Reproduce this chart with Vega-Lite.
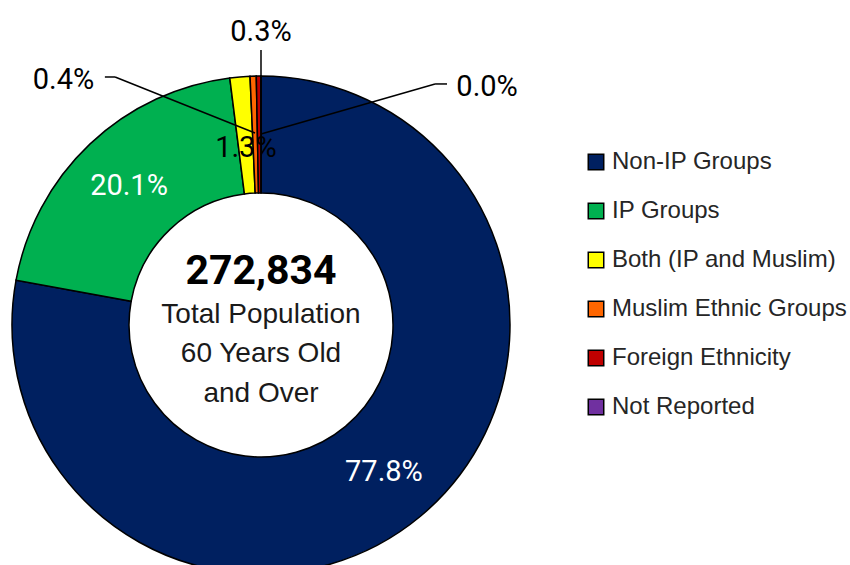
{
  "$schema": "https://vega.github.io/schema/vega-lite/v6.json",
  "width": 850,
  "height": 565,
  "autosize": {"type": "fit", "contains": "padding"},
  "padding": 0,
  "background": "white",
  "config": {"view": {"stroke": null}},
  "datasets": {
    "groups": [
      {"group": "Non-IP Groups", "share": 0.778, "rank": 1},
      {"group": "IP Groups", "share": 0.201, "rank": 2},
      {"group": "Both (IP and Muslim)", "share": 0.013, "rank": 3},
      {"group": "Muslim Ethnic Groups", "share": 0.004, "rank": 4},
      {"group": "Foreign Ethnicity", "share": 0.003, "rank": 5},
      {"group": "Not Reported", "share": 0.0, "rank": 6}
    ],
    "total": [{"population": 272834}]
  },
  "data": {"name": "groups"},
  "layer": [
    {
      "mark": {"type": "arc", "outerRadius": 249, "innerRadius": 132, "stroke": "black", "strokeWidth": 1.5, "clip": true},
      "encoding": {
        "x": {"datum": 0, "type": "quantitative", "scale": {"domain": [-1.0482, 2.3655], "nice": false, "zero": false}, "axis": null},
        "y": {"datum": 0, "type": "quantitative", "scale": {"domain": [-0.9639, 1.3052], "nice": false, "zero": false}, "axis": null},
        "theta": {"field": "share", "type": "quantitative", "stack": true},
        "order": {"field": "rank", "type": "quantitative"},
        "color": {
          "field": "group",
          "type": "nominal",
          "scale": {
            "domain": ["Non-IP Groups", "IP Groups", "Both (IP and Muslim)", "Muslim Ethnic Groups", "Foreign Ethnicity", "Not Reported"],
            "range": ["#002060", "#00B050", "#FFFF00", "#FF6600", "#C00000", "#7030A0"]
          },
          "legend": {
            "orient": "none",
            "legendX": 584,
            "legendY": 150,
            "title": null,
            "padding": 0,
            "symbolType": "square",
            "symbolSize": 240,
            "symbolStrokeColor": "black",
            "symbolStrokeWidth": 1.5,
            "labelFont": "Liberation Sans",
            "labelFontSize": 24,
            "labelColor": "#262626",
            "labelLimit": 300,
            "labelOffset": 4,
            "rowPadding": 25
          }
        }
      }
    },
    {
      "mark": {"type": "rule", "stroke": "black", "strokeWidth": 1.5},
      "data": {"values": [{}]},
      "encoding": {
        "x": {"datum": -0.627, "type": "quantitative"},
        "y": {"datum": 0.996, "type": "quantitative"},
        "x2": {"datum": -0.586},
        "y2": {"datum": 0.996}
      }
    },
    {
      "mark": {"type": "rule", "stroke": "black", "strokeWidth": 1.5},
      "data": {"values": [{}]},
      "encoding": {
        "x": {"datum": -0.586, "type": "quantitative"},
        "y": {"datum": 0.996, "type": "quantitative"},
        "x2": {"datum": -0.024},
        "y2": {"datum": 0.771}
      }
    },
    {
      "mark": {"type": "rule", "stroke": "black", "strokeWidth": 1.5},
      "data": {"values": [{}]},
      "encoding": {
        "x": {"datum": 0.747, "type": "quantitative"},
        "y": {"datum": 0.968, "type": "quantitative"},
        "x2": {"datum": 0.699},
        "y2": {"datum": 0.968}
      }
    },
    {
      "mark": {"type": "rule", "stroke": "black", "strokeWidth": 1.5},
      "data": {"values": [{}]},
      "encoding": {
        "x": {"datum": 0.699, "type": "quantitative"},
        "y": {"datum": 0.968, "type": "quantitative"},
        "x2": {"datum": 0.0},
        "y2": {"datum": 0.767}
      }
    },
    {
      "mark": {"type": "rule", "stroke": "black", "strokeWidth": 1.5},
      "data": {"values": [{}]},
      "encoding": {
        "x": {"datum": 0.0, "type": "quantitative"},
        "y": {"datum": 1.104, "type": "quantitative"},
        "x2": {"datum": 0.0},
        "y2": {"datum": 0.78}
      }
    },
    {
      "mark": {"type": "text", "radius": 192, "font": "Roboto", "fontSize": 29, "fill": "white", "baseline": "middle", "align": "center"},
      "encoding": {
        "x": {"datum": 0, "type": "quantitative"},
        "y": {"datum": 0, "type": "quantitative"},
        "theta": {"field": "share", "type": "quantitative", "stack": true},
        "order": {"field": "rank", "type": "quantitative"},
        "text": {"condition": {"test": "datum.rank > 2", "value": ""}, "field": "share", "type": "quantitative", "format": ".1%"}
      }
    },
    {
      "mark": {"type": "text", "radius": 178, "font": "Roboto", "fontSize": 29, "fill": "black", "baseline": "middle", "align": "center"},
      "encoding": {
        "x": {"datum": 0, "type": "quantitative"},
        "y": {"datum": 0, "type": "quantitative"},
        "theta": {"field": "share", "type": "quantitative", "stack": true},
        "order": {"field": "rank", "type": "quantitative"},
        "text": {"condition": {"test": "datum.rank != 3", "value": ""}, "field": "share", "type": "quantitative", "format": ".1%"}
      }
    },
    {
      "transform": [{"filter": "datum.rank == 4"}],
      "mark": {"type": "text", "font": "Roboto", "fontSize": 29, "fill": "black", "baseline": "middle", "align": "center"},
      "encoding": {
        "x": {"datum": -0.793, "type": "quantitative"},
        "y": {"datum": 0.982, "type": "quantitative"},
        "text": {"field": "share", "type": "quantitative", "format": ".1%"}
      }
    },
    {
      "transform": [{"filter": "datum.rank == 5"}],
      "mark": {"type": "text", "font": "Roboto", "fontSize": 29, "fill": "black", "baseline": "middle", "align": "center"},
      "encoding": {
        "x": {"datum": 0.0, "type": "quantitative"},
        "y": {"datum": 1.177, "type": "quantitative"},
        "text": {"field": "share", "type": "quantitative", "format": ".1%"}
      }
    },
    {
      "transform": [{"filter": "datum.rank == 6"}],
      "mark": {"type": "text", "font": "Roboto", "fontSize": 29, "fill": "black", "baseline": "middle", "align": "center"},
      "encoding": {
        "x": {"datum": 0.908, "type": "quantitative"},
        "y": {"datum": 0.956, "type": "quantitative"},
        "text": {"field": "share", "type": "quantitative", "format": ".1%"}
      }
    },
    {
      "data": {"name": "total"},
      "mark": {"type": "text", "font": "Roboto", "fontWeight": "bold", "fontSize": 41, "fill": "black", "baseline": "alphabetic", "align": "center", "dy": -41},
      "encoding": {
        "x": {"datum": 0, "type": "quantitative"},
        "y": {"datum": 0, "type": "quantitative"},
        "text": {"field": "population", "type": "quantitative", "format": ","}
      }
    },
    {
      "data": {"values": [{}]},
      "mark": {"type": "text", "font": "Liberation Sans", "fontSize": 28, "fill": "#1a1a1a", "baseline": "alphabetic", "align": "center", "dy": -2, "lineHeight": 39.5},
      "encoding": {
        "x": {"datum": 0, "type": "quantitative"},
        "y": {"datum": 0, "type": "quantitative"},
        "text": {"value": ["Total Population", "60 Years Old", "and Over"]}
      }
    }
  ]
}
